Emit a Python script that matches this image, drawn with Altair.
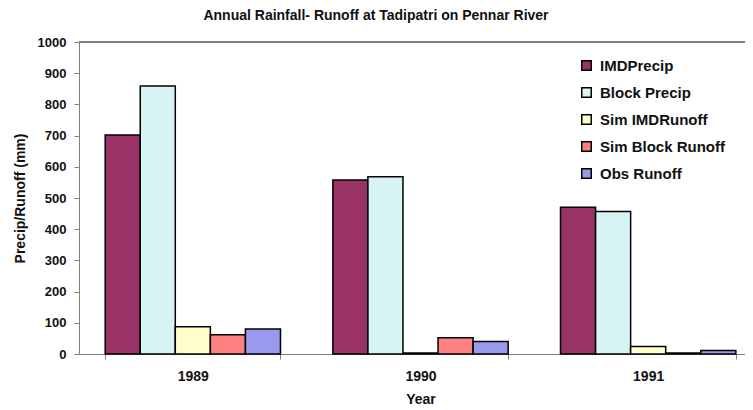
import altair as alt
import pandas as pd

years = ["1989", "1990", "1991"]
series = ["IMDPrecip", "Block Precip", "Sim IMDRunoff", "Sim Block Runoff", "Obs Runoff"]
imd_precip = [702, 558, 470]
block_precip = [859, 568, 457]
sim_imd_runoff = [87, 3, 24]
sim_block_runoff = [62, 52, 3]
obs_runoff = [80, 40, 11]
y_ticks = [0, 100, 200, 300, 400, 500, 600, 700, 800, 900, 1000]
colors = ["#993366", "#D6F4F4", "#FFFFCC", "#FF8080", "#9999EE"]

vals = [imd_precip, block_precip, sim_imd_runoff, sim_block_runoff, obs_runoff]
rows = []
for s, v in zip(series, vals):
    for y, val in zip(years, v):
        rows.append({"Year": y, "Series": s, "Value": val})
df = pd.DataFrame(rows)

FONT = "Liberation Sans"
W = 666
RANGE_W = 683

y_axis = alt.Axis(title="Precip/Runoff (mm)", values=y_ticks, tickCount=11,
                  format="d", labelOverlap=False,
                  grid=False, tickSize=5, labelPadding=8, titlePadding=10,
                  domainColor="#808080", tickColor="#808080",
                  labelFont=FONT, labelFontSize=13, labelFontWeight="bold",
                  titleFont=FONT, titleFontSize=14, titleFontWeight="bold",
                  labelColor="#111", titleColor="#111")
y_scale = alt.Scale(domain=[0, 1000], nice=False)

bars = alt.Chart(df).mark_bar(stroke="black", strokeWidth=1.5).encode(
    x=alt.X("Year:N", sort=years,
            scale=alt.Scale(range=[0, RANGE_W], paddingInner=0.23, paddingOuter=0.115),
            axis=alt.Axis(title="Year", labelAngle=0, tickBand="extent", tickSize=5,
                          labelPadding=10, titlePadding=9, domainColor="#808080",
                          tickColor="#808080", labelFont=FONT, labelFontSize=14,
                          labelFontWeight="bold", titleFont=FONT, titleFontSize=14,
                          titleFontWeight="bold", labelColor="#111", titleColor="#111")),
    xOffset=alt.XOffset("Series:N", sort=series, scale=alt.Scale(paddingInner=0, paddingOuter=0)),
    y=alt.Y("Value:Q", scale=y_scale, axis=y_axis),
    color=alt.Color("Series:N", sort=series,
                    scale=alt.Scale(domain=series, range=colors),
                    legend=alt.Legend(title=None, orient="none", legendX=500, legendY=16,
                                      symbolType="square", symbolSize=90,
                                      symbolStrokeColor="black", symbolStrokeWidth=1.5,
                                      labelFont=FONT, labelFontSize=15, labelFontWeight="bold",
                                      labelColor="#111", rowPadding=10, labelOffset=6)),
)

top_rule = alt.Chart(df).mark_rule(color="#808080", strokeWidth=1).encode(
    y=alt.datum(1000, scale=y_scale, axis=y_axis), x=alt.value(0), x2=alt.value(RANGE_W)
)

chart = alt.layer(bars, top_rule).properties(
    width=W, height=312,
    title=alt.TitleParams("Annual Rainfall- Runoff at Tadipatri on Pennar River",
                          font=FONT, fontSize=14, fontWeight="bold", color="#111",
                          anchor="middle", dx=-36, offset=13),
    autosize=alt.AutoSizeParams(type="none"),
    padding={"left": 71, "top": 34, "right": 0, "bottom": 56},
).configure_view(stroke=None)

chart.save("out.html", embed_options={"renderer": "svg", "actions": False})
